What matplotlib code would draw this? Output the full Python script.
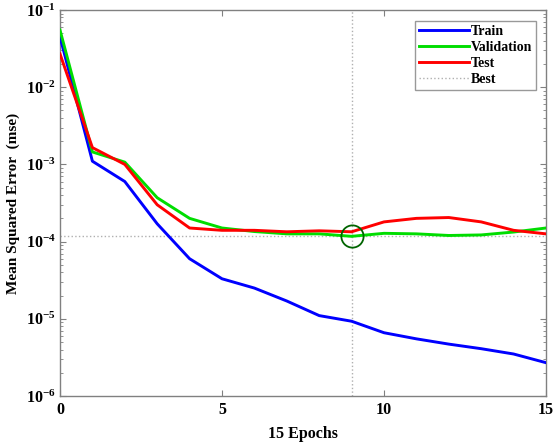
import matplotlib
matplotlib.use("Agg")
import matplotlib.pyplot as plt
from matplotlib.ticker import LogLocator, FixedLocator

epochs = list(range(16))
train = [4.5e-2, 1.1e-3, 6.0e-4, 1.7e-4, 6.0e-5, 3.3e-5, 2.5e-5, 1.7e-5,
         1.1e-5, 9.3e-6, 6.6e-6, 5.5e-6, 4.7e-6, 4.1e-6, 3.5e-6, 2.7e-6]
validation = [5.5e-2, 1.45e-3, 1.07e-3, 3.7e-4, 2.0e-4, 1.5e-4, 1.35e-4, 1.26e-4,
              1.26e-4, 1.17e-4, 1.28e-4, 1.26e-4, 1.2e-4, 1.22e-4, 1.33e-4, 1.5e-4]
test = [2.7e-2, 1.65e-3, 1.0e-3, 3.0e-4, 1.5e-4, 1.4e-4, 1.4e-4, 1.34e-4,
        1.38e-4, 1.34e-4, 1.8e-4, 2.0e-4, 2.05e-4, 1.8e-4, 1.4e-4, 1.26e-4]
best_epoch = 9
best_value = 1.17e-4
xticks = [0, 5, 10, 15]

plt.rcParams['font.family'] = ['Liberation Serif', 'DejaVu Serif']
plt.rcParams['font.weight'] = 'bold'
plt.rcParams['mathtext.fontset'] = 'custom'
plt.rcParams['mathtext.rm'] = 'Liberation Serif:bold'
plt.rcParams['mathtext.default'] = 'rm'

fig = plt.figure(figsize=(5.53, 4.44), dpi=100)
ax = fig.add_axes([60/553, 1-396/444, (546-60)/553, (396-10)/444])

ax.plot(epochs, train, color='#0000ff', lw=2.1, label='Train', zorder=3)
ax.plot(epochs, validation, color='#00dd00', lw=2.1, label='Validation', zorder=3)
ax.plot(epochs, test, color='#ff0000', lw=2.1, label='Test', zorder=3)
ax.axvline(best_epoch, color='#b0b0b0', ls=':', lw=1, zorder=1)
ax.axhline(best_value, color='#b0b0b0', ls=':', lw=1, zorder=1, label='Best')
ax.plot([best_epoch], [best_value], marker='o', ms=16, mfc='none', mec='#006400',
        mew=1.3, ls='none', zorder=4)

ax.set_yscale('log')
ax.set_xlim(0, 15)
ax.set_ylim(1e-6, 1e-1)
ax.xaxis.set_major_locator(FixedLocator(xticks))
ax.yaxis.set_major_locator(LogLocator(base=10, numticks=10))
ax.yaxis.set_minor_locator(LogLocator(base=10, subs=range(2, 10), numticks=10))

for s in ax.spines.values():
    s.set_color('#808080')
    s.set_linewidth(1.0)
ax.tick_params(which='both', direction='in', top=True, right=True, color='#808080')
ax.tick_params(which='major', length=4, labelsize=11.5, pad=4)
ax.tick_params(axis='y', which='major', pad=3)
ax.tick_params(which='minor', length=2)

ax.set_xlabel('15 Epochs', fontsize=11.5, fontweight='bold', labelpad=6)
ax.set_ylabel('Mean Squared Error  (mse)', fontsize=11, fontweight='bold', labelpad=4)

leg = ax.legend(loc='upper right', fontsize=10, frameon=True, fancybox=False,
                edgecolor='#808080', handlelength=3.6, handletextpad=0.1,
                borderpad=0.3, labelspacing=0.22, borderaxespad=0,
                bbox_to_anchor=((536-60)/486, 1-11/386))
leg.get_frame().set_linewidth(1.0)
for t in leg.get_texts():
    t.set_fontweight('bold')

fig.savefig('out.png', dpi=100)
